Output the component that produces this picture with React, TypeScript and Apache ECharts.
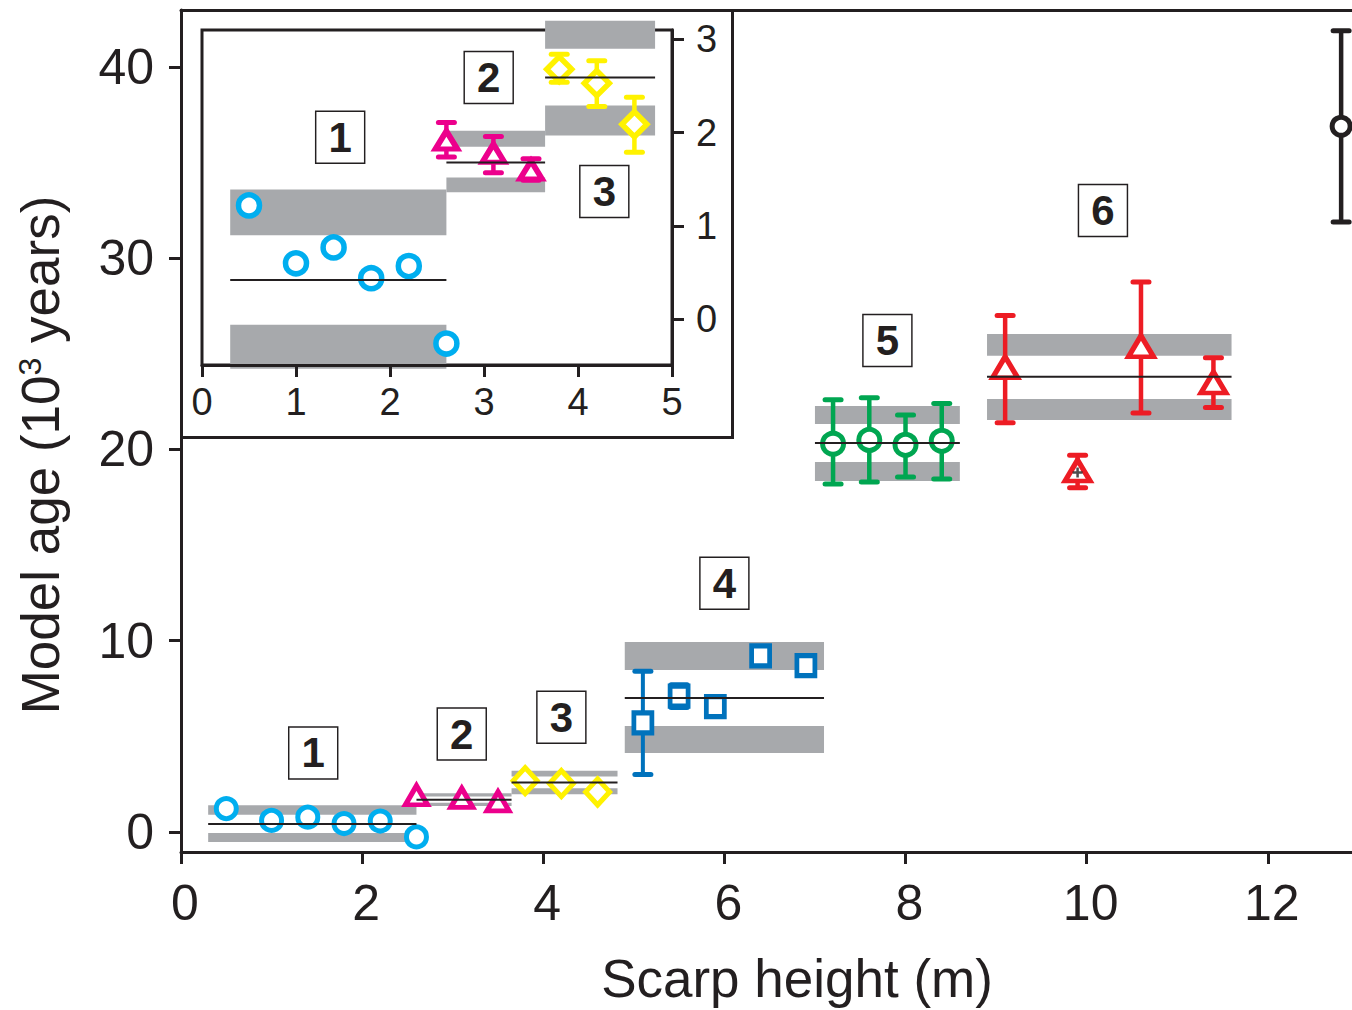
import React, { useEffect, useRef } from "react";
import * as echarts from "echarts";

const FONT = '"Liberation Sans", Arial, Helvetica, sans-serif';
const INK = "#231f20";
const GRAY = "#a7a9ac";

// tick labels
const mainXTicks = [0, 2, 4, 6, 8, 10, 12];
const mainYTicks = [0, 10, 20, 30, 40];
const insetXTicks = [0, 1, 2, 3, 4, 5];
const insetYTicks = [0, 1, 2, 3];

// group 1 (cyan circles)
const g1X = [0.5, 1.0, 1.4, 1.8, 2.2, 2.6];
const g1Y = [1.22, 0.6, 0.77, 0.44, 0.57, -0.26];
const g1Mean = 0.42;
const g1Span = [0.3, 2.6];
const g1Bands = [[-0.53, -0.06], [0.9, 1.39]];

// group 2 (magenta triangles)
const g2X = [2.6, 3.1, 3.5];
const g2Y = [1.92, 1.78, 1.6];
const g2Lo = [1.74, 1.57, 1.49];
const g2Hi = [2.11, 1.96, 1.72];
const g2Mean = 1.68;
const g2Span = [2.6, 3.65];
const g2Bands = [[1.36, 1.52], [1.85, 2.02]];

// group 3 (yellow diamonds)
const g3X = [3.8, 4.2, 4.6];
const g3Y = [2.68, 2.53, 2.09];
const g3Lo = [2.54, 2.28, 1.79];
const g3Hi = [2.84, 2.77, 2.38];
const g3Mean = 2.59;
const g3Span = [3.65, 4.82];
const g3Bands = [[1.97, 2.29], [2.9, 3.2]];

// group 4 (blue squares)
const g4X = [5.1, 5.5, 5.9, 6.4, 6.9];
const g4Y = [5.7, 7.1, 6.55, 9.2, 8.7];
const g4Lo = [3.0, 6.5, null, null, null];
const g4Hi = [8.4, 7.7, null, null, null];
const g4Mean = 7.0;
const g4Span = [4.9, 7.1];
const g4Bands = [[4.13, 5.54], [8.47, 9.93]];

// group 5 (green circles)
const g5X = [7.2, 7.6, 8.0, 8.4];
const g5Y = [20.3, 20.5, 20.24, 20.45];
const g5Lo = [18.2, 18.3, 18.56, 18.45];
const g5Hi = [22.6, 22.7, 21.8, 22.4];
const g5Mean = 20.34;
const g5Span = [7.0, 8.6];
const g5Bands = [[18.35, 19.35], [21.33, 22.27]];

// group 6 (red triangles)
const g6X = [9.1, 9.9, 10.6, 11.4];
const g6Y = [24.3, 18.9, 25.4, 23.5];
const g6Lo = [21.4, 18.0, 21.9, 22.2];
const g6Hi = [27.0, 19.7, 28.76, 24.8];
const g6Mean = 23.8;
const g6Span = [8.9, 11.6];
const g6Bands = [[21.54, 22.64], [24.9, 26.04]];
const plusX = [9.9];
const plusY = [18.8];

// group 7 (black circle)
const g7X = [12.81];
const g7Y = [36.9];
const g7Lo = [31.9];
const g7Hi = [41.9];

// numbered boxes
const mainBoxText = ["1", "2", "3", "4", "5", "6"];
const mainBoxX = [1.46, 3.1, 4.2, 6.0, 7.8, 10.18];
const mainBoxY = [4.13, 5.12, 6.0, 13.0, 25.7, 32.5];
const insetBoxText = ["1", "2", "3"];
const insetBoxX = [1.47, 3.05, 4.28];
const insetBoxY = [1.95, 2.59, 1.37];

type G = {
  x: number[];
  y: number[];
  lo?: (number | null)[];
  hi?: (number | null)[];
  mean?: number;
  span?: number[];
  bands?: number[][];
  color: string;
  symbol: string;
};

const G1: G = { x: g1X, y: g1Y, mean: g1Mean, span: g1Span, bands: g1Bands, color: "#00aeef", symbol: "circle" };
const G2: G = { x: g2X, y: g2Y, lo: g2Lo, hi: g2Hi, mean: g2Mean, span: g2Span, bands: g2Bands, color: "#ec008c", symbol: "triangle" };
const G3: G = { x: g3X, y: g3Y, lo: g3Lo, hi: g3Hi, mean: g3Mean, span: g3Span, bands: g3Bands, color: "#fff200", symbol: "diamond" };
const G4: G = { x: g4X, y: g4Y, lo: g4Lo, hi: g4Hi, mean: g4Mean, span: g4Span, bands: g4Bands, color: "#0072bc", symbol: "rect" };
const G5: G = { x: g5X, y: g5Y, lo: g5Lo, hi: g5Hi, mean: g5Mean, span: g5Span, bands: g5Bands, color: "#00a651", symbol: "circle" };
const G6: G = { x: g6X, y: g6Y, lo: g6Lo, hi: g6Hi, mean: g6Mean, span: g6Span, bands: g6Bands, color: "#ed1c24", symbol: "triangle" };
const G7: G = { x: g7X, y: g7Y, lo: g7Lo, hi: g7Hi, color: INK, symbol: "circle" };

type Cfg = { size: number | number[]; bw: number; err?: boolean; lw?: number; cap?: number; capLw?: number };

function groupSeries(g: G, gi: number, cfg: Cfg): any[] {
  const out: any[] = [];
  if (g.bands && g.span) {
    const sp = g.span;
    out.push({
      type: "custom",
      xAxisIndex: gi,
      yAxisIndex: gi,
      z: 2,
      clip: false,
      silent: true,
      data: g.bands.map((b) => [sp[0], sp[1], b[0], b[1]]),
      encode: { x: [0, 1], y: [2, 3] },
      renderItem: (_p: any, api: any) => {
        const a = api.coord([api.value(0), api.value(3)]);
        const b = api.coord([api.value(1), api.value(2)]);
        return {
          type: "rect",
          shape: { x: a[0], y: a[1], width: b[0] - a[0], height: b[1] - a[1] },
          style: { fill: GRAY },
        };
      },
    });
  }
  if (cfg.err && g.lo && g.hi) {
    const data: number[][] = [];
    g.x.forEach((x, i) => {
      const lo = g.lo![i];
      const hi = g.hi![i];
      if (lo != null && hi != null) data.push([x, lo, hi]);
    });
    const lw = cfg.lw ?? 4;
    const cap = cfg.cap ?? 8;
    const capLw = cfg.capLw ?? 5;
    out.push({
      type: "custom",
      xAxisIndex: gi,
      yAxisIndex: gi,
      z: 3,
      clip: false,
      silent: true,
      data,
      encode: { x: 0, y: [1, 2] },
      renderItem: (_p: any, api: any) => {
        const pl = api.coord([api.value(0), api.value(1)]);
        const ph = api.coord([api.value(0), api.value(2)]);
        return {
          type: "group",
          children: [
            { type: "line", shape: { x1: pl[0], y1: pl[1], x2: ph[0], y2: ph[1] }, style: { stroke: g.color, lineWidth: lw } },
            { type: "line", shape: { x1: pl[0] - cap, y1: pl[1], x2: pl[0] + cap, y2: pl[1] }, style: { stroke: g.color, lineWidth: capLw, lineCap: "round" } },
            { type: "line", shape: { x1: ph[0] - cap, y1: ph[1], x2: ph[0] + cap, y2: ph[1] }, style: { stroke: g.color, lineWidth: capLw, lineCap: "round" } },
          ],
        };
      },
    });
  }
  out.push({
    type: "scatter",
    xAxisIndex: gi,
    yAxisIndex: gi,
    z: 4,
    clip: false,
    silent: true,
    symbol: g.symbol,
    symbolSize: cfg.size,
    itemStyle: { color: "#ffffff", borderColor: g.color, borderWidth: cfg.bw, opacity: 1 },
    data: g.x.map((x, i) => [x, g.y[i]]),
  });
  if (g.mean != null && g.span) {
    const sp = g.span;
    out.push({
      type: "custom",
      xAxisIndex: gi,
      yAxisIndex: gi,
      z: 5,
      clip: false,
      silent: true,
      data: [[sp[0], sp[1], g.mean]],
      encode: { x: [0, 1], y: 2 },
      renderItem: (_p: any, api: any) => {
        const a = api.coord([api.value(0), api.value(2)]);
        const b = api.coord([api.value(1), api.value(2)]);
        return {
          type: "line",
          shape: { x1: a[0], y1: a[1], x2: b[0], y2: b[1] },
          style: { stroke: INK, lineWidth: 2 },
        };
      },
    });
  }
  return out;
}

function boxSeries(gi: number, xs: number[], ys: number[], texts: string[]) {
  return {
    type: "scatter",
    xAxisIndex: gi,
    yAxisIndex: gi,
    z: 6,
    clip: false,
    silent: true,
    symbol: "rect",
    symbolSize: [49, 52],
    itemStyle: { color: "#ffffff", borderColor: INK, borderWidth: 1.5, opacity: 1 },
    label: {
      show: true,
      position: "inside",
      formatter: "{b}",
      fontFamily: FONT,
      fontWeight: "bold",
      fontSize: 42,
      color: INK,
    },
    data: xs.map((x, i) => ({ name: texts[i], value: [x, ys[i]] })),
  };
}

function axisCommon(fontSize: number, margin: number, ticks: number[]) {
  return {
    type: "value",
    axisLine: { show: true, onZero: false, lineStyle: { color: INK, width: 3 } },
    axisTick: { show: true, inside: false, length: 12, customValues: ticks, lineStyle: { color: INK, width: 3 } },
    axisLabel: { show: true, customValues: ticks, fontSize, fontFamily: FONT, color: INK, margin },
    splitLine: { show: false },
    z: 3,
  };
}

export default function App() {
  const ref = useRef<HTMLDivElement>(null);
  useEffect(() => {
    if (!ref.current) return;
    const chart = echarts.init(ref.current, undefined, { renderer: "svg" });
    const series: any[] = [
      ...groupSeries(G1, 0, { size: 20, bw: 5 }),
      ...groupSeries(G2, 0, { size: [22, 19], bw: 5 }),
      ...groupSeries(G3, 0, { size: [24, 26], bw: 5 }),
      ...groupSeries(G4, 0, { size: [18, 20], bw: 5, err: true, lw: 4, cap: 8, capLw: 5 }),
      ...groupSeries(G5, 0, { size: 21, bw: 5, err: true, lw: 4.5, cap: 8, capLw: 5 }),
      ...groupSeries(G6, 0, { size: [25, 21], bw: 5, err: true, lw: 4.5, cap: 8, capLw: 5 }),
      ...groupSeries(G7, 0, { size: 18, bw: 5, err: true, lw: 4.5, cap: 8, capLw: 5 }),
      {
        type: "scatter",
        xAxisIndex: 0,
        yAxisIndex: 0,
        z: 5,
        silent: true,
        symbol: "path://M3,0H5V3H8V5H5V8H3V5H0V3H3Z",
        symbolSize: 10,
        itemStyle: { color: INK },
        data: plusX.map((x, i) => [x, plusY[i]]),
      },
      boxSeries(0, mainBoxX, mainBoxY, mainBoxText),
      ...groupSeries(G1, 1, { size: 21, bw: 5.5 }),
      ...groupSeries(G2, 1, { size: [22, 18], bw: 5.5, err: true, lw: 4.5, cap: 8, capLw: 5 }),
      ...groupSeries(G3, 1, { size: [25, 25], bw: 5.5, err: true, lw: 4.5, cap: 8, capLw: 5 }),
      boxSeries(1, insetBoxX, insetBoxY, insetBoxText),
    ];
    const mainX: any = { ...axisCommon(50, 26, mainXTicks), gridIndex: 0, position: "bottom", min: 0, max: 12.93 };
    mainX.axisLabel = { ...mainX.axisLabel, padding: [0, 0, 0, 8] };
    chart.setOption({
      animation: false,
      backgroundColor: "#ffffff",
      grid: [
        { left: 181, top: 10, width: 1171, height: 842, show: false },
        { left: 202, top: 30, width: 470, height: 335, show: true, borderColor: INK, borderWidth: 3, backgroundColor: "rgba(0,0,0,0)", z: 1 },
      ],
      xAxis: [
        mainX,
        { ...axisCommon(38, 18, insetXTicks), gridIndex: 1, position: "bottom", min: 0, max: 5 },
        {
          type: "value",
          gridIndex: 0,
          position: "top",
          min: 0,
          max: 12.93,
          axisLine: { show: true, onZero: false, lineStyle: { color: INK, width: 3 } },
          axisTick: { show: false },
          axisLabel: { show: false },
          splitLine: { show: false },
        },
      ],
      yAxis: [
        { ...axisCommon(50, 27, mainYTicks), gridIndex: 0, position: "left", min: -1.05, max: 42.98 },
        { ...axisCommon(38, 24, insetYTicks), gridIndex: 1, position: "right", min: -0.49, max: 3.1 },
      ],
      graphic: [
        {
          type: "rect",
          shape: { x: 181.5, y: 10.5, width: 551, height: 427 },
          style: { fill: "none", stroke: INK, lineWidth: 3 },
          z: 10,
          silent: true,
        },
        {
          type: "text",
          x: 797,
          y: 978,
          silent: true,
          style: {
            text: "Scarp height (m)",
            fontFamily: FONT,
            fontSize: 53,
            fill: INK,
            align: "center",
            verticalAlign: "middle",
          },
        },
        {
          type: "text",
          x: 40,
          y: 455,
          rotation: Math.PI / 2,
          silent: true,
          style: {
            text: "{a|Model age (10}{s|3}{a| years)}",
            fontFamily: FONT,
            fontSize: 53,
            fill: INK,
            align: "center",
            verticalAlign: "middle",
            rich: {
              a: { fontFamily: FONT, fontSize: 53, fill: INK },
              s: { fontFamily: FONT, fontSize: 32, fill: INK, verticalAlign: "top" },
            },
          },
        },
      ],
      series,
    });
    return () => chart.dispose();
  }, []);
  return (
    <div
      ref={ref}
      style={{ position: "fixed", left: 0, top: 0, width: 1352, height: 1010, background: "#fff" }}
    />
  );
}
